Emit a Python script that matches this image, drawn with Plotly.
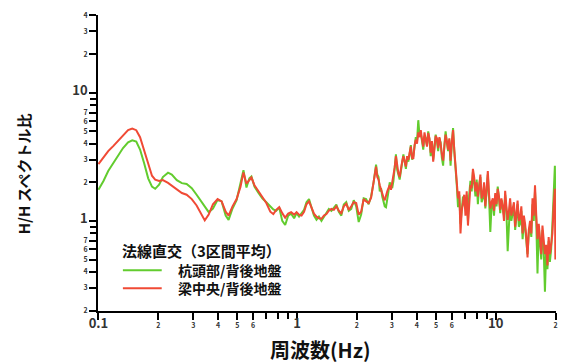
import plotly.graph_objects as go

# Frequency grid (Hz)
freq = [
    0.100, 0.106, 0.112, 0.119, 0.126, 0.133, 0.141, 0.148, 0.155, 0.162,
    0.170, 0.178, 0.186, 0.193, 0.202, 0.211, 0.224, 0.234, 0.248, 0.263,
    0.278, 0.295, 0.312, 0.327, 0.343, 0.359, 0.377, 0.398, 0.417, 0.437,
    0.452, 0.473, 0.496, 0.519, 0.537, 0.556, 0.575, 0.589, 0.610, 0.638,
    0.668, 0.700, 0.733, 0.759, 0.785, 0.813, 0.842, 0.871, 0.902, 0.933,
    0.966, 0.994, 1.023, 1.053, 1.084, 1.115, 1.148, 1.181, 1.216, 1.252,
    1.288, 1.326, 1.365, 1.405, 1.445, 1.488, 1.531, 1.576, 1.622, 1.670,
    1.718, 1.768, 1.820, 1.873, 1.928, 1.984, 2.042, 2.101, 2.163, 2.226,
    2.291, 2.358,
    2.427, 2.462, 2.497, 2.533, 2.570, 2.607, 2.645, 2.683, 2.723, 2.762,
    2.802, 2.843, 2.884, 2.926, 2.968, 3.011, 3.055, 3.099, 3.144, 3.190,
    3.236, 3.283, 3.330, 3.378, 3.428, 3.478, 3.528, 3.579, 3.631, 3.684,
    3.737, 3.791, 3.846, 3.902, 3.958, 4.015, 4.074, 4.133, 4.193, 4.254,
    4.315, 4.378, 4.441, 4.505, 4.571, 4.637, 4.704, 4.772, 4.842, 4.912,
    4.983, 5.055, 5.129, 5.203, 5.278, 5.355, 5.433, 5.512, 5.591, 5.672,
    5.754, 5.837, 5.922, 6.008, 6.095, 6.183, 6.273, 6.364, 6.457, 6.551,
    6.645, 6.741, 6.839, 6.938, 7.038, 7.140, 7.244, 7.349, 7.456, 7.564,
    7.674, 7.785, 7.898, 8.013, 8.128, 8.246, 8.366, 8.487, 8.610, 8.735,
    8.861, 8.989, 9.120, 9.252, 9.387, 9.523, 9.661, 9.801, 9.943, 10.09,
    10.23, 10.38, 10.53, 10.68, 10.84, 11.00, 11.15, 11.31, 11.48, 11.65,
    11.81, 11.98, 12.16, 12.34, 12.52, 12.70, 12.88, 13.07, 13.26, 13.45,
    13.65, 13.85, 14.05, 14.25, 14.45, 14.66, 14.88, 15.10, 15.31, 15.53,
    15.76, 15.99, 16.22, 16.46, 16.70, 16.94, 17.18, 17.43, 17.68, 17.94,
    18.20, 18.46, 18.73, 19.00, 19.28, 19.56, 19.84, 19.95,
]

# 杭頭部/背後地盤
ratio_pile = [
    1.75, 2.05, 2.45, 2.85, 3.25, 3.70, 4.10, 4.25, 4.15, 3.60,
    2.80, 2.15, 1.85, 1.78, 1.92, 2.20, 2.38, 2.30, 2.08, 1.97,
    1.94, 1.80, 1.60, 1.45, 1.30, 1.17, 1.25, 1.46, 1.42, 1.10,
    1.02, 1.25, 1.45, 1.95, 2.49, 1.82, 2.15, 2.22, 1.85, 1.66,
    1.50, 1.40, 1.30, 1.23, 1.20, 1.27, 1.00, 0.93, 1.10, 1.14,
    1.05, 1.15, 1.08, 1.14, 1.22, 1.40, 1.48, 1.28, 1.10, 1.02,
    1.08, 1.00, 1.08, 1.15, 1.24, 1.20, 1.28, 1.34, 1.18, 1.10,
    1.34, 1.40, 1.20, 1.24, 1.45, 1.30, 0.98, 1.12, 1.50, 1.48,
    1.35, 1.55,
    2.00, 2.40, 2.75, 2.30, 2.20, 1.70, 1.80, 1.55, 1.40, 1.30,
    1.28, 1.55, 1.70, 2.00, 1.90, 1.80, 2.05, 2.70, 3.30, 2.50,
    2.25, 2.10, 2.45, 2.80, 3.30, 2.90, 2.55, 3.10, 2.90, 3.30,
    3.90, 3.00, 3.20, 3.80, 4.50, 4.20, 6.10, 4.60, 4.80, 4.20,
    3.60, 4.60, 4.40, 3.90, 5.00, 4.30, 3.20, 4.10, 3.00, 3.80,
    4.70, 4.20, 3.50, 4.40, 4.10, 3.10, 2.70, 3.90, 5.00, 4.10,
    3.50, 4.30, 2.70, 4.00, 5.30, 3.50, 2.30, 1.90, 1.28, 1.60,
    0.95, 1.30, 1.55, 1.35, 1.25, 1.60, 1.00, 1.60, 2.05, 1.70,
    2.40, 2.00, 1.55, 2.10, 1.35, 1.90, 2.20, 1.40, 1.50, 1.90,
    1.25, 1.70, 2.30, 1.50, 0.82, 1.30, 1.45, 1.10, 1.60, 1.30,
    1.85, 1.50, 1.15, 1.45, 1.25, 1.10, 1.60, 1.20, 0.58, 1.10,
    1.40, 1.00, 1.20, 1.30, 0.85, 1.10, 1.35, 0.90, 0.95, 1.20,
    0.72, 1.00, 0.88, 0.70, 0.55, 0.80, 0.92, 0.75, 1.35, 1.00,
    1.70, 1.00, 0.39, 0.90, 0.62, 0.50, 0.85, 0.60, 0.28, 0.60,
    0.42, 0.70, 0.48, 0.60, 0.95, 1.50, 2.69, 1.20,
]

# 梁中央/背後地盤
ratio_beam = [
    2.77, 3.15, 3.50, 3.85, 4.25, 4.70, 5.10, 5.25, 5.10, 4.50,
    3.60, 2.80, 2.25, 2.10, 2.05, 2.08, 1.98, 1.88, 1.75, 1.65,
    1.60, 1.48, 1.32, 1.15, 1.01, 1.12, 1.35, 1.48, 1.42, 1.18,
    1.10, 1.30, 1.48, 1.85, 2.39, 1.95, 2.10, 2.18, 1.90, 1.72,
    1.52, 1.38, 1.18, 1.13, 1.22, 1.28, 1.15, 1.06, 1.14, 1.17,
    1.12, 1.17, 1.12, 1.10, 1.18, 1.35, 1.42, 1.25, 1.14, 1.08,
    1.05, 1.04, 1.10, 1.13, 1.20, 1.24, 1.22, 1.30, 1.20, 1.15,
    1.30, 1.36, 1.22, 1.30, 1.40, 1.38, 1.12, 1.18, 1.48, 1.42,
    1.38, 1.52,
    2.10, 2.35, 2.65, 2.20, 2.10, 1.90, 1.75, 1.60, 1.52, 1.45,
    1.62, 1.70, 1.80, 1.90, 1.75, 2.00, 2.15, 2.60, 3.20, 2.70,
    2.35, 2.20, 2.60, 2.90, 3.20, 2.80, 2.65, 3.20, 3.00, 3.40,
    3.80, 3.10, 3.05, 3.90, 4.30, 4.00, 4.90, 4.50, 5.10, 4.30,
    3.80, 4.90, 4.20, 3.80, 4.85, 4.40, 3.40, 4.20, 2.90, 3.90,
    4.60, 4.40, 3.70, 4.50, 4.00, 3.30, 2.95, 3.80, 4.70, 4.20,
    3.60, 4.40, 2.95, 4.10, 5.10, 3.60, 2.50, 2.00, 1.50, 1.70,
    0.80, 1.20, 1.45, 1.60, 1.10, 1.70, 0.92, 1.50, 1.90, 1.80,
    2.55, 2.20, 1.70, 2.00, 1.55, 1.80, 2.30, 1.50, 1.60, 2.00,
    1.30, 1.75, 2.45, 1.60, 1.25, 1.40, 1.50, 1.20, 1.65, 1.35,
    1.78, 1.55, 1.22, 1.50, 1.30, 1.00, 1.72, 1.30, 1.02, 1.20,
    1.50, 1.10, 1.25, 1.40, 0.90, 1.15, 1.44, 1.00, 1.05, 1.30,
    0.80, 1.10, 0.95, 0.75, 0.52, 0.85, 1.00, 0.80, 1.50, 1.10,
    1.90, 1.10, 0.72, 0.95, 0.66, 0.55, 0.92, 0.70, 0.55, 0.65,
    0.45, 0.75, 0.55, 0.65, 0.80, 1.30, 1.78, 0.50,
]

series_names = ["杭頭部/背後地盤", "梁中央/背後地盤"]
series_colors = ["#62cc2e", "#f04a35"]
legend_title = "法線直交（3区間平均）"

# Labelled ticks (decades bold and larger) and unlabelled minor ticks
x_tick_vals = [0.1, 0.2, 0.3, 0.4, 0.5, 0.6, 1, 2, 3, 4, 5, 6, 10, 20]
x_tick_text = ["0.1", "2", "3", "4", "5", "6", "1", "2", "3", "4", "5", "6", "10", "2"]
x_minor_vals = [0.7, 0.8, 0.9, 7, 8, 9]
y_tick_vals = [0.2, 0.3, 0.4, 0.5, 0.6, 0.7, 1, 2, 3, 4, 5, 6, 7, 10, 20, 30, 40]
y_tick_text = ["2", "3", "4", "5", "6", "7", "1", "2", "3", "4", "5", "6", "7",
               "10", "2", "3", "4"]
y_minor_vals = [0.8, 0.9, 8, 9]

MAJOR = {"0.1", "1", "10"}


def fmt(labels):
    out = []
    for t in labels:
        if t in MAJOR:
            out.append("<span style='font-size:13px'><b>%s</b></span>" % t)
        else:
            out.append("<b>%s</b>" % t)
    return out


FONT = "Noto Sans CJK JP"
X0, X1 = 98, 558      # plot area in pixels (left/right)
Y0, Y1 = 13, 311      # plot area in pixels (top/bottom)


def px(x):
    return (x - X0) / (X1 - X0)


def py(y):
    return (Y1 - y) / (Y1 - Y0)


fig = go.Figure()
for y, name, color in zip([ratio_pile, ratio_beam], series_names, series_colors):
    fig.add_trace(go.Scatter(
        x=freq, y=y, mode="lines", name=name,
        line=dict(color=color, width=2),
        showlegend=False,
    ))

axis_common = dict(
    type="log", showline=True, linecolor="black", linewidth=2,
    ticks="outside", ticklen=7, tickwidth=1.5, tickcolor="black",
    showgrid=False, zeroline=False, mirror=False, tickangle=0,
    tickfont=dict(family=FONT, size=7, color="#333333"),
)

LEG_SIZE = 14
text_font = dict(family=FONT, size=LEG_SIZE, color="#111111", weight="bold")
line_step = 1.3 * LEG_SIZE          # line spacing of a multi-line annotation
leg_mid = 279                        # vertical centre of the two entries (px)

annotations = [
    dict(text="H/H スペクトル比", textangle=-90, showarrow=False,
         xref="paper", yref="paper", x=px(24), y=py(173),
         xanchor="center", yanchor="middle",
         font=dict(family=FONT, size=15, weight="bold", color="#111111")),
    dict(text="周波数(Hz)", showarrow=False,
         xref="paper", yref="paper", x=px(321), y=py(350),
         xanchor="center", yanchor="middle",
         font=dict(family=FONT, size=20, weight="bold", color="#111111")),
    # legend block: header and the two entry labels
    dict(text=legend_title, showarrow=False, xref="paper", yref="paper",
         x=px(120), y=py(250), xanchor="left", yanchor="middle",
         font=dict(text_font, size=15)),
    dict(text="<br>".join(series_names), showarrow=False, align="left",
         xref="paper", yref="paper", x=px(176), y=py(leg_mid),
         xanchor="left", yanchor="middle", font=text_font),
]
shapes = []
for i, color in enumerate(series_colors):
    ly = leg_mid + (i - 0.5) * line_step
    shapes.append(dict(type="line", xref="paper", yref="paper",
                       x0=px(123), x1=px(162), y0=py(ly), y1=py(ly),
                       line=dict(color=color, width=2)))

fig.update_layout(
    width=568, height=363,
    margin=dict(l=X0, r=568 - X1, t=Y0, b=363 - Y1),
    paper_bgcolor="white", plot_bgcolor="white",
    font=dict(family=FONT, color="black"),
    xaxis=dict(range=[-1.0022, 1.3032], tickmode="array", tickvals=x_tick_vals,
               ticktext=fmt(x_tick_text),
               minor=dict(tickmode="array", tickvals=x_minor_vals, ticks="outside",
                          ticklen=6, tickwidth=1.5, tickcolor="black", showgrid=False),
               **axis_common),
    yaxis=dict(range=[-0.7022, 1.6055], tickmode="array", tickvals=y_tick_vals,
               ticktext=fmt(y_tick_text),
               minor=dict(tickmode="array", tickvals=y_minor_vals, ticks="outside",
                          ticklen=6, tickwidth=1.5, tickcolor="black", showgrid=False),
               **axis_common),
    showlegend=False,
    annotations=annotations,
    shapes=shapes,
)

fig.write_html("out.html")
